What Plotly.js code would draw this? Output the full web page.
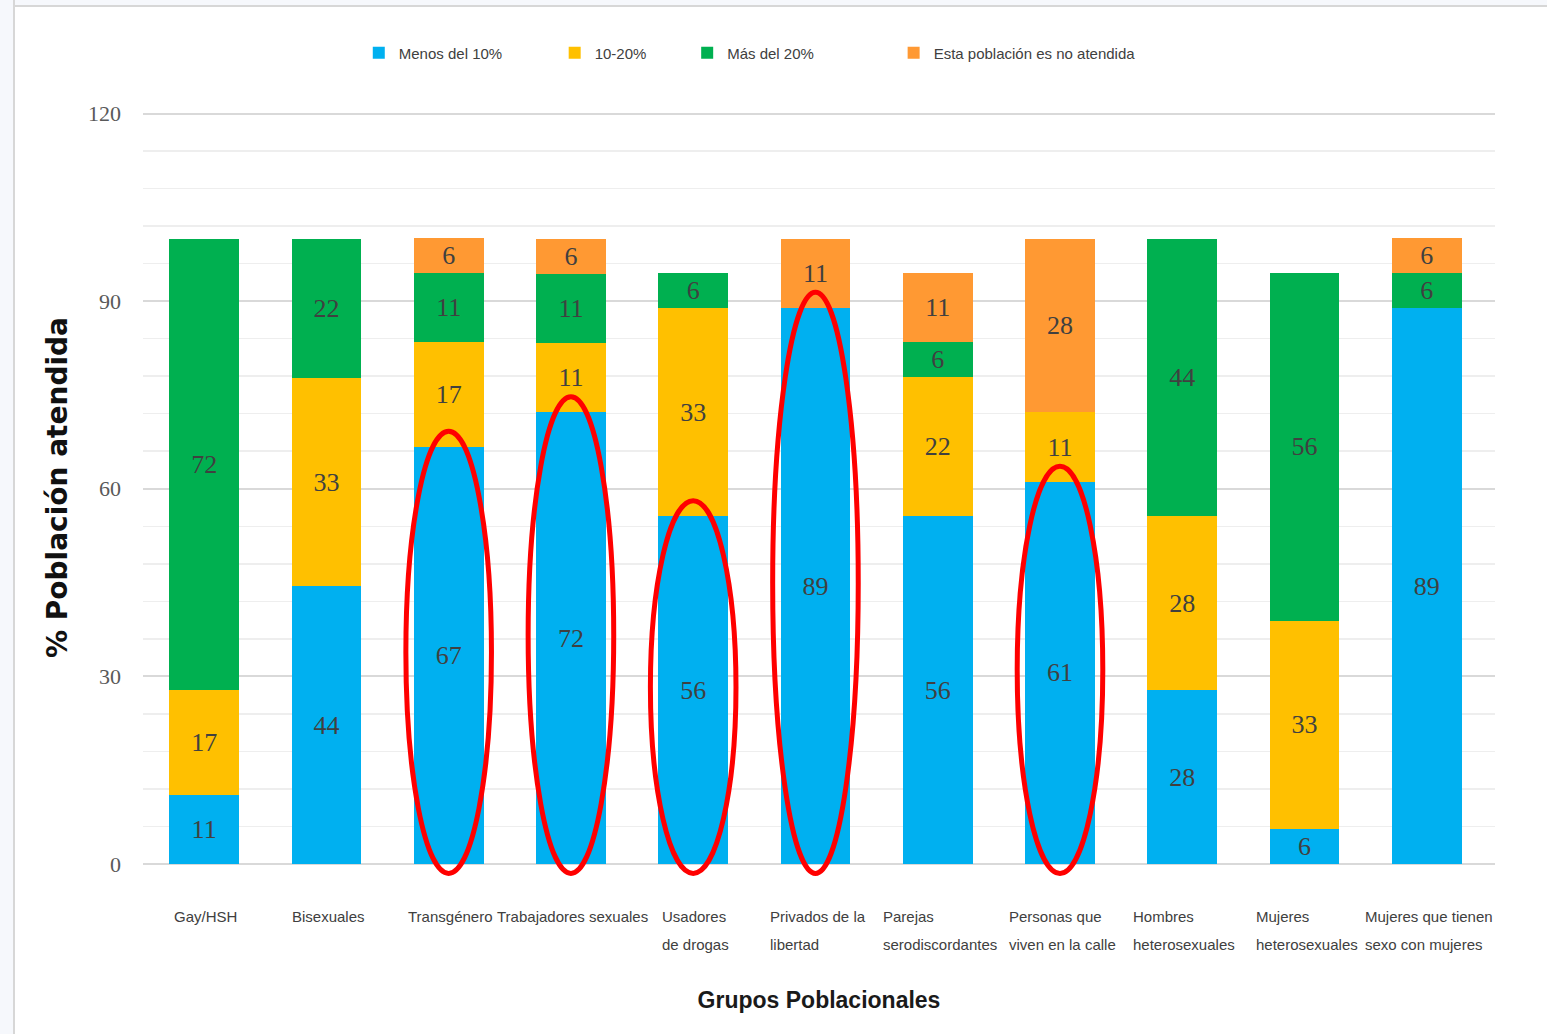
<!DOCTYPE html>
<html>
<head>
<meta charset="utf-8">
<script src="https://cdn.plot.ly/plotly-3.0.1.min.js"></script>
<style>
html,body{margin:0;padding:0;background:#ffffff;}
#wrap{position:relative;width:1547px;height:1034px;}
#chart{position:absolute;left:0;top:0;width:1547px;height:1034px;}
#frameTop{position:absolute;left:0;top:0;width:1547px;height:5px;background:#f6f8fc;border-bottom:2px solid #d7d7d7;pointer-events:none;}
#frameLeft{position:absolute;left:0;top:0;width:13px;height:1034px;background:#f6f8fc;border-right:2px solid #d7d7d7;pointer-events:none;}
</style>
</head>
<body>
<div id="wrap">
  <div id="chart"></div>
  <div id="frameTop"></div>
  <div id="frameLeft"></div>
</div>
<script>
// ---------- data ----------
const categories = ['Gay/HSH','Bisexuales','Transgénero','Trabajadores sexuales','Usadores de drogas',
  'Privados de la libertad','Parejas serodiscordantes','Personas que viven en la calle',
  'Hombres heterosexuales','Mujeres heterosexuales','Mujeres que tienen sexo con mujeres'];
const tickLabels = ['Gay/HSH','Bisexuales','Transgénero','Trabajadores sexuales','Usadores<br>de drogas',
  'Privados de la<br>libertad','Parejas<br>serodiscordantes','Personas que<br>viven en la calle',
  'Hombres<br>heterosexuales','Mujeres<br>heterosexuales','Mujeres que tienen<br>sexo con mujeres'];
const seriesNames = ['Menos del 10%','10-20%','Más del 20%','Esta población es no atendida'];
const menos10  = [11.1, 44.4, 66.7, 72.2, 55.6, 88.9, 55.6, 61.1, 27.8, 5.6, 88.9];
const de10a20  = [16.7, 33.3, 16.7, 11.1, 33.3, null, 22.2, 11.1, 27.8, 33.3, null];
const mas20    = [72.2, 22.2, 11.1, 11.1, 5.6, null, 5.6, null, 44.4, 55.6, 5.6];
const noAtend  = [null, null, 5.6, 5.6, null, 11.1, 11.1, 27.8, null, null, 5.6];
const highlighted = ['Transgénero','Trabajadores sexuales','Usadores de drogas',
  'Privados de la libertad','Personas que viven en la calle'];
const yTicks = [0, 30, 60, 90, 120];

// ---------- styles ----------
const colors = ['#00b0f0','#ffc000','#00b050','#ff9933'];
const legendX = [0.1596, 0.3045, 0.4025, 0.5552];
const labelFont = {family:'Liberation Serif, Times New Roman, serif', size:26, color:'#404040'};
const catFont = {family:'Liberation Sans, Arial, sans-serif', size:15, color:'#404040'};
const yMax = 120.4;

const values = [menos10, de10a20, mas20, noAtend];
const legendIds = ['legend','legend2','legend3','legend4'];

const traces = values.map((v, k) => ({
  type:'bar',
  name: seriesNames[k],
  x: categories,
  y: v,
  marker:{color: colors[k], line:{width:0}},
  texttemplate:'%{y:.0f}',
  textposition:'inside',
  insidetextanchor:'middle',
  textangle:0,
  textfont: labelFont,
  legend: legendIds[k],
  hoverinfo:'x+y+name'
}));

// red ellipses around highlighted bars (vertical in paper units so they are not clipped at 0)
const shapes = highlighted.map(name => {
  const i = categories.indexOf(name);
  return {
    type:'circle', xref:'x', yref:'paper',
    x0: i - 0.35, x1: i + 0.35,
    y0: -1.5 / yMax, y1: (menos10[i] + 2.5) / yMax,
    line:{color:'#ff0000', width:5},
    fillcolor:'rgba(0,0,0,0)',
    layer:'above'
  };
});

// category labels (left-aligned lines in a centred box, as in the original)
const ctx = document.createElement('canvas').getContext('2d');
ctx.font = catFont.size + 'px "Liberation Sans"';
const annotations = [];
tickLabels.forEach((lab, i) => {
  const lines = lab.split('<br>');
  const w = Math.max(...lines.map(l => ctx.measureText(l).width));
  lines.forEach((line, j) => {
    annotations.push({
      x: categories[i], xref:'x', y:0, yref:'y',
      xanchor:'left', yanchor:'middle',
      xshift: -w/2, yshift: -52 - 28*j,
      text: line, showarrow:false, font: catFont
    });
  });
});

const legendBase = (x) => ({
  x: x, y: 1.077, xanchor:'left', yanchor:'middle',
  orientation:'h', bgcolor:'rgba(0,0,0,0)', itemwidth:30,
  font:{family:'Liberation Sans, Arial, sans-serif', size:15, color:'#404040'}
});

const layout = {
  width:1547, height:1034,
  margin:{l:143, r:52, t:110.5, b:170},
  paper_bgcolor:'#ffffff', plot_bgcolor:'#ffffff',
  barmode:'stack', bargap:0.43,
  uniformtext:{mode:'show', minsize:26},
  showlegend:true,
  legend: legendBase(legendX[0]),
  legend2: legendBase(legendX[1]),
  legend3: legendBase(legendX[2]),
  legend4: legendBase(legendX[3]),
  xaxis:{
    type:'category', showticklabels:false, ticks:'', showgrid:false, showline:false, zeroline:false,
    title:{text:'Grupos Poblacionales', standoff:127,
      font:{family:'Liberation Sans, Arial, sans-serif', size:23, weight:'bold', color:'#1a1a1a'}}
  },
  yaxis:{
    range:[0, yMax], tickvals:yTicks, ticktext:yTicks.map(String),
    showgrid:true, gridcolor:'#d9d9d9', gridwidth:2,
    minor:{dtick:6, tick0:0, showgrid:true, gridcolor:'#eeeeee', gridwidth:1.5},
    zeroline:true, zerolinecolor:'#d9d9d9', zerolinewidth:2,
    showline:false, ticks:'', ticklabelstandoff:21,
    tickfont:{family:'Liberation Serif, Times New Roman, serif', size:22, color:'#595959'},
    title:{text:'% Población atendida', standoff:12,
      font:{family:'DejaVu Sans, sans-serif', size:28, weight:'bold', color:'#111111'}}
  },
  shapes: shapes,
  annotations: annotations
};

Plotly.newPlot('chart', traces, layout, {displayModeBar:false, staticPlot:true});
</script>
</body>
</html>
